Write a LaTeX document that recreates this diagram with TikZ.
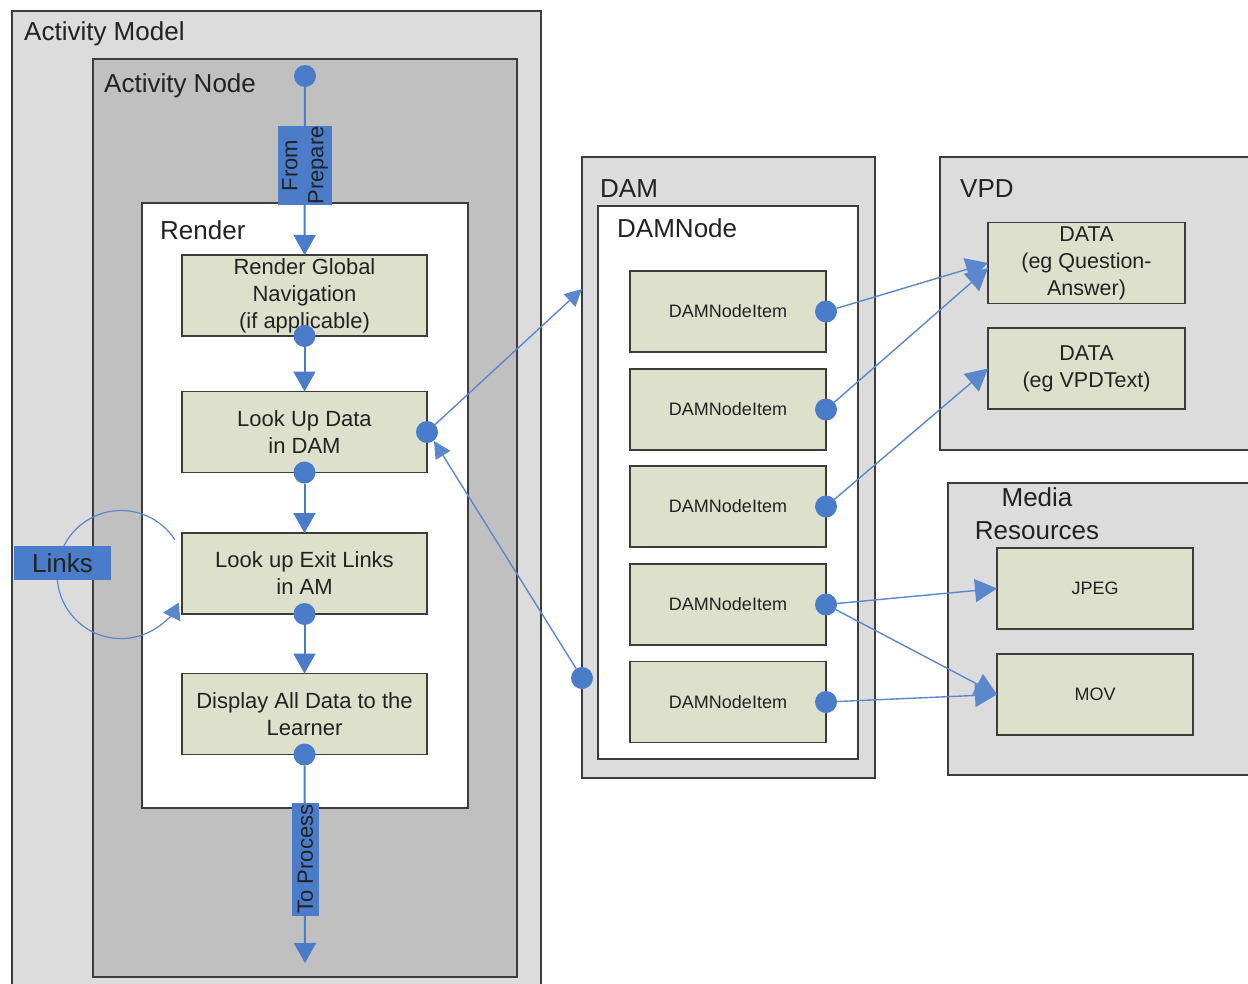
\documentclass[tikz,border=0pt]{standalone}
\usepackage{fontspec}
\setmainfont{Liberation Sans}
\usetikzlibrary{arrows.meta,calc}
\definecolor{amgray}{HTML}{DCDCDC}
\definecolor{nodegray}{HTML}{C0C0C0}
\definecolor{boxgreen}{HTML}{DDE1CC}
\definecolor{edge}{HTML}{3C3C3C}
\definecolor{flowblue}{HTML}{4A7CC9}
\definecolor{linkblue}{HTML}{5B87CC}
\definecolor{txt}{HTML}{222222}

\begin{document}
\begin{tikzpicture}[x=1pt,y=-1pt,
  container/.style={draw=edge, line width=2pt, anchor=north west, inner sep=0pt, outer sep=0pt},
  title/.style={anchor=base west, inner sep=0pt, text=txt, font=\fontsize{26}{30}\selectfont},
  stepbox/.style={draw=edge, line width=1.6pt, fill=boxgreen, minimum width=245pt, minimum height=81pt,
    align=center, inner sep=0pt, outer sep=0pt, text=txt, font=\fontsize{22}{27}\selectfont},
  itembox/.style={draw=edge, line width=1.6pt, fill=boxgreen, minimum width=196pt, minimum height=81pt,
    align=center, inner sep=0pt, outer sep=0pt, text=txt, font=\fontsize{18}{22}\selectfont},
  databox/.style={itembox, minimum width=197pt, font=\fontsize{21.5}{27}\selectfont},
  dot/.style={circle, fill=flowblue, minimum size=22pt, inner sep=0pt, outer sep=0pt},
  tag/.style={fill=flowblue, text=txt, inner sep=0pt, align=center, font=\fontsize{22}{26}\selectfont},
  flow/.style={draw=flowblue, line width=2pt, -{Triangle[width=22pt,length=20pt]}},
  link/.style={draw=linkblue, line width=1.4pt, -{Triangle[width=23pt,length=22pt]}}
]
\useasboundingbox (0,0) rectangle (1248,983);
\fill[white] (0,0) rectangle (1248,983);

% containers
\node[container, fill=amgray, minimum width=529pt, minimum height=1000pt] (am) at (12,11) {};
\node[container, fill=nodegray, minimum width=424pt, minimum height=918pt] (an) at (93,59) {};
\node[container, fill=white, line width=1.6pt, minimum width=326pt, minimum height=605pt] (render) at (142,203) {};
\node[container, fill=amgray, minimum width=293pt, minimum height=621pt] (dam) at (582,157) {};
\node[container, fill=white, line width=1.6pt, minimum width=260pt, minimum height=553pt] (damnode) at (598,206) {};
\node[container, fill=amgray, minimum width=320pt, minimum height=293pt] (vpd) at (940,157) {};
\node[container, fill=amgray, minimum width=310pt, minimum height=292pt] (media) at (948,483) {};

% container titles
\node[title] (amt) at (24,40) {Activity Model};
\node[title] (ant) at (104,92) {Activity Node};
\node[title] (rt) at (160,239) {Render};
\node[title] (damt) at (600,197) {DAM};
\node[title] (damnt) at (617,237) {DAMNode};
\node[title] (vpdt) at (960,197) {VPD};
\node[title, anchor=center, align=center, font=\fontsize{26}{33}\selectfont] (mediat) at (1037,514) {Media\\Resources};

% render steps
\node[stepbox] (rg) at (304.5,295.5) {Render Global\\Navigation\\(if applicable)};
\node[stepbox] (lu) at (304.5,432) {Look Up Data\\in DAM};
\node[stepbox] (ex) at (304.5,573.5) {Look up Exit Links\\in AM};
\node[stepbox] (dp) at (304.5,714) {Display All Data to the\\Learner};

% DAM items
\node[itembox] (it1) at (728,311.5) {DAMNodeItem};
\node[itembox] (it2) at (728,409.5) {DAMNodeItem};
\node[itembox] (it3) at (728,506.5) {DAMNodeItem};
\node[itembox] (it4) at (728,604.5) {DAMNodeItem};
\node[itembox] (it5) at (728,702) {DAMNodeItem};

% data and media
\node[databox] (data1) at (1086.5,263) {DATA\\(eg Question-\\Answer)};
\node[databox] (data2) at (1086.5,368.5) {DATA\\(eg VPDText)};
\node[itembox] (jpeg) at (1095,588.5) {JPEG};
\node[itembox] (mov) at (1095,694.5) {MOV};

% ports
\node[dot] (d0) at (305,76) {};
\node[dot] (d1) at (rg.south) {};
\node[dot] (d2) at (lu.south) {};
\node[dot] (d3) at (ex.south) {};
\node[dot] (d4) at (dp.south) {};
\node[dot] (dl) at (lu.east) {};
\node[dot] (dd) at (582,678) {};
\node[dot] (p1) at (it1.east) {};
\node[dot] (p2) at (it2.east) {};
\node[dot] (p3) at (it3.east) {};
\node[dot] (p4) at (it4.east) {};
\node[dot] (p5) at (it5.east) {};

\coordinate (out) at (305,963);
\coordinate (damin) at (582,289);
\coordinate (luin) at (434,441);
\coordinate (loopstart) at ($(122,574)+(33:63pt)$);

% main flow
\draw[flow] (d0) -- (rg);
\draw[flow] (d1) -- (lu);
\draw[flow] (d2) -- (ex);
\draw[flow] (d3) -- (dp);
\draw[flow] (d4) -- (out);

% exit-links loop
\draw[link, line width=1.2pt, -{Triangle[width=19pt,length=16pt]}] (loopstart) arc[start angle=33, end angle=334, radius=64pt];

% DAM lookups
\draw[link, -{Triangle[width=17pt,length=17pt]}] (dl) -- (damin);
\draw[link, -{Triangle[width=17pt,length=17pt]}] (dd) -- (luin);
\draw[link] (p1) -- (data1.west);
\draw[link] (p2) -- ([yshift=-5pt]data1.west);
\draw[link] (p3) -- (data2.west);
\draw[link] (p4) -- (jpeg.west);
\draw[link] (p4) -- (mov.west);
\draw[link] (p5) -- (mov.west);

% flow tags
\node[tag, rotate=90, minimum width=79pt, minimum height=54pt] (fp) at (305,165.5) {From\\Prepare};
\node[tag, rotate=90, minimum width=113pt, minimum height=27pt] (tp) at (305.5,859) {To Process};
\node[tag, minimum width=97pt, minimum height=34pt, font=\fontsize{26}{30}\selectfont] (links) at (62.5,563) {Links};
\end{tikzpicture}
\end{document}
